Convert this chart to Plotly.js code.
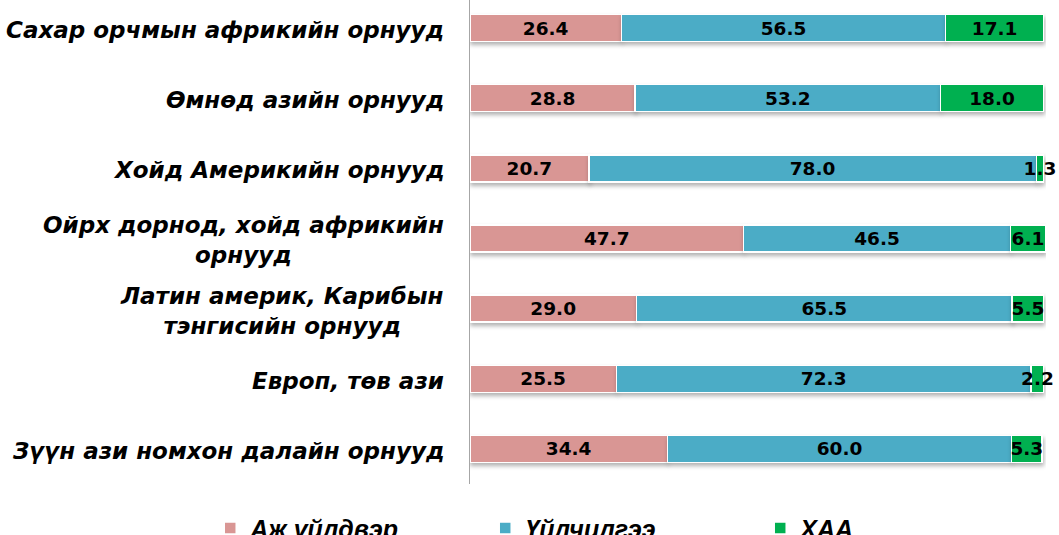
<!DOCTYPE html>
<html>
<head>
<meta charset="utf-8">
<script src="https://cdn.plot.ly/plotly-3.0.1.min.js"></script>
<style>
html,body{margin:0;padding:0;background:#fff;}
#chart{width:1059px;height:535px;}
#chart .barlayer .point path{filter:drop-shadow(1px 3px 2px rgba(0,0,0,0.30));}
</style>
</head>
<body>
<div id="chart"></div>
<script>
var categories = [
  "Сахар орчмын африкийн орнууд",
  "Өмнөд азийн орнууд",
  "Хойд Америкийн орнууд",
  "Ойрх дорнод, хойд африкийн<br>орнууд",
  "Латин америк, Карибын<br>тэнгисийн орнууд",
  "Европ, төв ази",
  "Зүүн ази номхон далайн орнууд"
];
var seriesNames = ["Аж үйлдвэр", "Үйлчилгээ", "ХАА"];
var industry = [26.4, 28.8, 20.7, 47.7, 29.0, 25.5, 34.4];
var services = [56.5, 53.2, 78.0, 46.5, 65.5, 72.3, 60.0];
var agriculture = [17.1, 18.0, 1.3, 6.1, 5.5, 2.2, 5.3];
var colors = ["#D99694", "#4BACC6", "#00B050"];

var values = [industry, services, agriculture];
var traces = values.map(function (v, i) {
  return {
    type: "bar",
    orientation: "h",
    name: seriesNames[i],
    y: categories,
    x: v,
    marker: {color: colors[i], line: {color: "#ffffff", width: 1.5}},
    text: v.map(function (d) { return d.toFixed(1); }),
    texttemplate: "%{text}",
    textposition: "inside",
    insidetextanchor: "middle",
    textangle: 0,
    constraintext: "none",
    cliponaxis: false,
    textfont: {family: "DejaVu Sans", size: 18.5, color: "#000000", weight: "bold"},
    hoverinfo: "skip"
  };
});

var annotations = categories.map(function (c) {
  return {
    xref: "paper", yref: "y", x: 0, y: c, xanchor: "right", yanchor: "middle",
    xshift: -24, yshift: -2, align: "center", showarrow: false, text: c,
    font: {family: "DejaVu Sans", size: 23, color: "#000000", weight: "bold", style: "italic"}
  };
});

var layout = {
  width: 1059, height: 535,
  margin: {l: 470, r: 13, t: 0, b: 51, autoexpand: false},
  barmode: "stack",
  bargap: 0.615,
  paper_bgcolor: "#ffffff", plot_bgcolor: "#ffffff",
  xaxis: {range: [0, 100.4], visible: false, fixedrange: true},
  yaxis: {type: "category", range: [6.5, -0.4], showticklabels: false, showgrid: false,
          zeroline: false, showline: true, linecolor: "#A6A6A6", linewidth: 1, ticks: "", fixedrange: true},
  showlegend: true,
  legend: {orientation: "h", x: -0.451, xanchor: "left", y: -0.044, yanchor: "top",
           font: {family: "Liberation Sans", size: 25, color: "#000000", style: "italic", weight: "bold"},
           entrywidth: 230, entrywidthmode: "pixels", traceorder: "normal"},
  annotations: annotations
};

Plotly.newPlot("chart", traces, layout, {displayModeBar: false, staticPlot: true});
</script>
</body>
</html>
